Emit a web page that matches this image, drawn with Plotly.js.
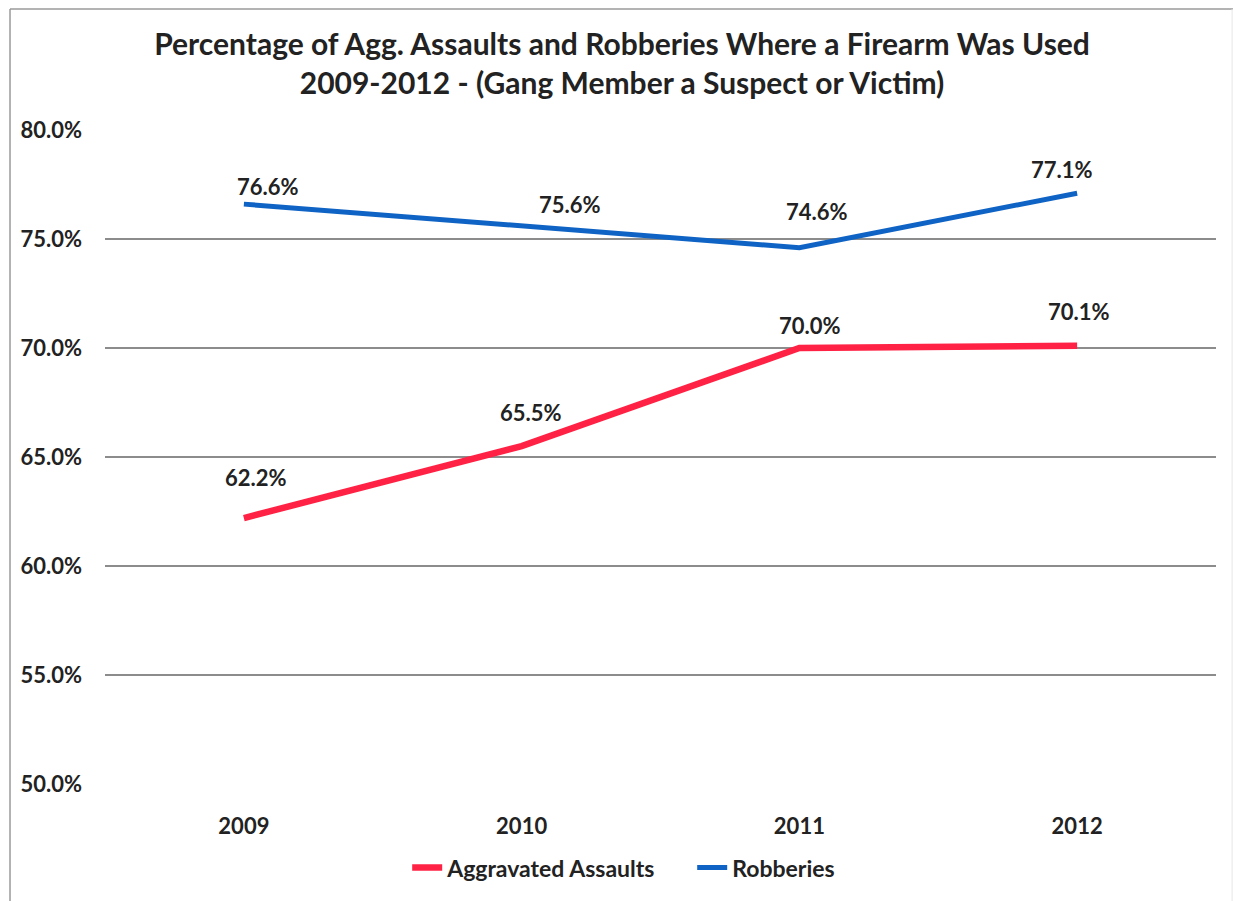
<!DOCTYPE html>
<html>
<head>
<meta charset="utf-8">
<script src="https://cdn.plot.ly/plotly-3.0.1.min.js"></script>
<style>
html,body{margin:0;padding:0;background:#fff;}
#chart{width:1233px;height:901px;}
</style>
</head>
<body>
<div id="chart"></div>
<script>
const years = ["2009", "2010", "2011", "2012"];
const aggravatedAssaults = [62.2, 65.5, 70.0, 70.1];
const robberies = [76.6, 75.6, 74.6, 77.1];
const seriesNames = ["Aggravated Assaults", "Robberies"];
const yTickValues = [50, 55, 60, 65, 70, 75, 80];

// label placement offsets (pixels), layout only
const assaultLabelShift = [41, 34, 23, 34];
const assaultLabelXShift = [12, 9, 11, 2];
const robberyLabelShift = [18, 21, 36, 24];
const robberyLabelXShift = [24, 48, 18, -15];

const FONT = "Lato, 'Open Sans', sans-serif";
const RED = "#FF2244";
const BLUE = "#0F63C4";
const TXT = "#222";

const traces = [
  {
    x: years, y: aggravatedAssaults, name: "<b>" + seriesNames[0] + "</b>",
    type: "scatter", mode: "lines",
    line: {color: RED, width: 6.5},
    hoverinfo: "skip"
  },
  {
    x: years, y: robberies, name: "<b>" + seriesNames[1] + "</b>",
    type: "scatter", mode: "lines",
    line: {color: BLUE, width: 5},
    hoverinfo: "skip"
  }
];

const annotations = [];
function addLabels(vals, ys, xs) {
  vals.forEach((v, i) => {
    annotations.push({
      x: i, y: v, xref: "x", yref: "y",
      text: "<b>" + v.toFixed(1) + "%</b>",
      showarrow: false, yshift: ys[i], xshift: xs[i],
      xanchor: "center", yanchor: "middle",
      font: {family: FONT, size: 22, color: TXT}
    });
  });
}
addLabels(aggravatedAssaults, assaultLabelShift, assaultLabelXShift);
addLabels(robberies, robberyLabelShift, robberyLabelXShift);

const layout = {
  width: 1233, height: 901,
  margin: {l: 105, r: 17, t: 130, b: 106},
  paper_bgcolor: "#fff", plot_bgcolor: "#fff",
  showlegend: true,
  title: {
    text: "<b>Percentage of Agg. Assaults and Robberies Where a Firearm Was Used<br>2009-2012 - (Gang Member a Suspect or Victim)</b>",
    font: {family: FONT, size: 30, color: TXT},
    xref: "container", yref: "container",
    x: 0.5045, xanchor: "center", y: 0.939, yanchor: "middle"
  },
  xaxis: {
    type: "category", range: [-0.5, 3.5],
    showgrid: false, zeroline: false, showline: false,
    ticks: "", tickfont: {family: FONT, size: 22, color: TXT},
    tickvals: years, ticktext: years.map(y => "<b>" + y + "</b>"),
    ticklabelstandoff: 27
  },
  yaxis: {
    range: [50, 80], tickvals: yTickValues,
    ticktext: yTickValues.map(v => "<b>" + v.toFixed(1) + "%</b>"),
    showgrid: true, gridcolor: "#8c8c8c", gridwidth: 1.5,
    zeroline: false, showline: false, ticks: "",
    tickfont: {family: FONT, size: 22, color: TXT},
    ticklabelstandoff: 22
  },
  legend: {
    orientation: "h", x: 0.272, xanchor: "left", y: -0.095, yanchor: "top",
    font: {family: FONT, size: 23, color: TXT},
    entrywidth: 240, entrywidthmode: "pixels",
    tracegroupgap: 0
  },
  annotations: annotations,
  shapes: [
    {type: "line", xref: "paper", yref: "paper",
     x0: -0.0855, x1: 1.0153, y0: 1.185, y1: 1.185,
     line: {color: "#9a9a9a", width: 1.5}},
    {type: "line", xref: "paper", yref: "paper",
     x0: -0.0855, x1: -0.0855, y0: -0.2, y1: 1.185,
     line: {color: "#9a9a9a", width: 1.5}},
    {type: "line", xref: "paper", yref: "paper",
     x0: 1.0145, x1: 1.0145, y0: -0.2, y1: 1.185,
     line: {color: "#e6e6e6", width: 1}}
  ]
};

Plotly.newPlot("chart", traces, layout, {displayModeBar: false, staticPlot: true})
  .catch(e => { document.body.insertAdjacentText("beforeend", String(e)); });
</script>
</body>
</html>
